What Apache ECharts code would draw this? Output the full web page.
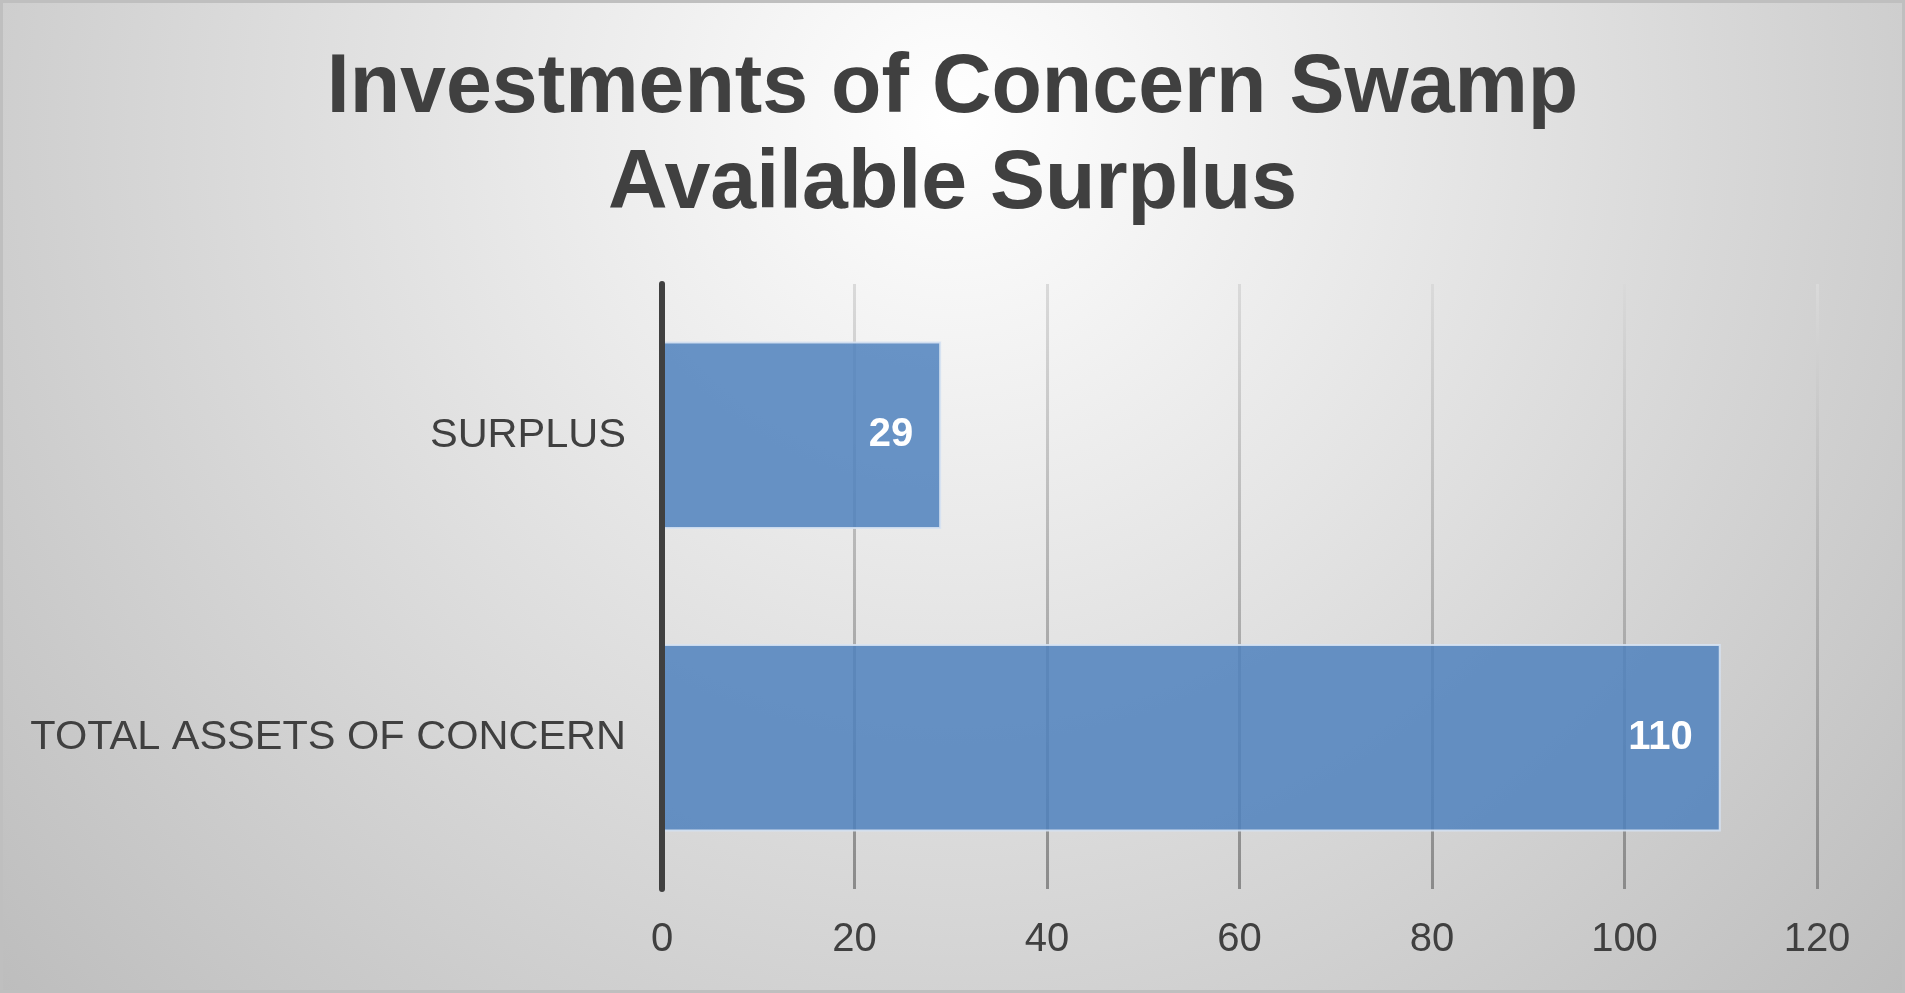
<!DOCTYPE html>
<html>
<head>
<meta charset="utf-8">
<title>Investments of Concern Swamp Available Surplus</title>
<script src="https://cdn.jsdelivr.net/npm/echarts@6/dist/echarts.min.js"></script>
<style>
  html, body { margin: 0; padding: 0; }
  #chart { width: 1905px; height: 993px; }
</style>
</head>
<body>
<div id="chart"></div>
<script>
var titleText = 'Investments of Concern Swamp\nAvailable Surplus';
var categories = ['TOTAL ASSETS OF CONCERN', 'SURPLUS'];
var values = [110, 29];
var axisMin = 0;
var axisMax = 120;
var axisStep = 20;

var myChart = echarts.init(document.getElementById('chart'));
var font = '"Liberation Sans", Arial, sans-serif';

option = {
    backgroundColor: new echarts.graphic.RadialGradient(0.5, 0.12, 1.3, [
        { offset: 0, color: '#ffffff' },
        { offset: 1, color: '#bdbdbd' }
    ]),
    animation: false,
    title: {
        text: titleText,
        left: 'center',
        top: 41,
        padding: 0,
        textStyle: {
            color: '#404040',
            fontFamily: font,
            fontWeight: 'bold',
            fontSize: 82.5,
            lineHeight: 96
        }
    },
    graphic: [{
        type: 'rect',
        silent: true,
        shape: { x: 1.5, y: 1.5, width: 1902, height: 990 },
        style: { fill: 'none', stroke: '#bfbfbf', lineWidth: 3 }
    }],
    grid: {
        left: 662,
        right: 88,
        top: 284,
        bottom: 104
    },
    xAxis: {
        type: 'value',
        min: axisMin,
        max: axisMax,
        interval: axisStep,
        axisLine: { show: false },
        axisTick: { show: false },
        axisLabel: {
            color: '#404040',
            fontFamily: font,
            fontSize: 40,
            margin: 31
        },
        splitLine: {
            lineStyle: {
                width: 3,
                // 网格线上浅下深
                color: new echarts.graphic.LinearGradient(0, 0, 0, 1, [
                    { offset: 0, color: '#dadada' },
                    { offset: 1, color: '#8a8a8a' }
                ])
            }
        }
    },
    yAxis: {
        type: 'category',
        data: categories,
        z: 5, // 轴线压在柱子上面
        axisLine: {
            lineStyle: { color: '#404040', width: 6 }
        },
        axisTick: { show: false },
        axisLabel: {
            color: '#404040',
            fontFamily: font,
            fontSize: 41.5,
            margin: 36
        }
    },
    series: [{
        type: 'bar',
        data: values,
        barWidth: '62%',
        itemStyle: {
            color: 'rgba(79,129,189,0.85)',
            borderColor: 'rgba(214,226,242,0.9)',
            borderWidth: 2
        },
        label: {
            show: true,
            position: 'insideRight',
            distance: 28,
            color: '#ffffff',
            fontFamily: font,
            fontWeight: 'bold',
            fontSize: 40
        }
    }]
};
myChart.setOption(option, true);
</script>
</body>
</html>
